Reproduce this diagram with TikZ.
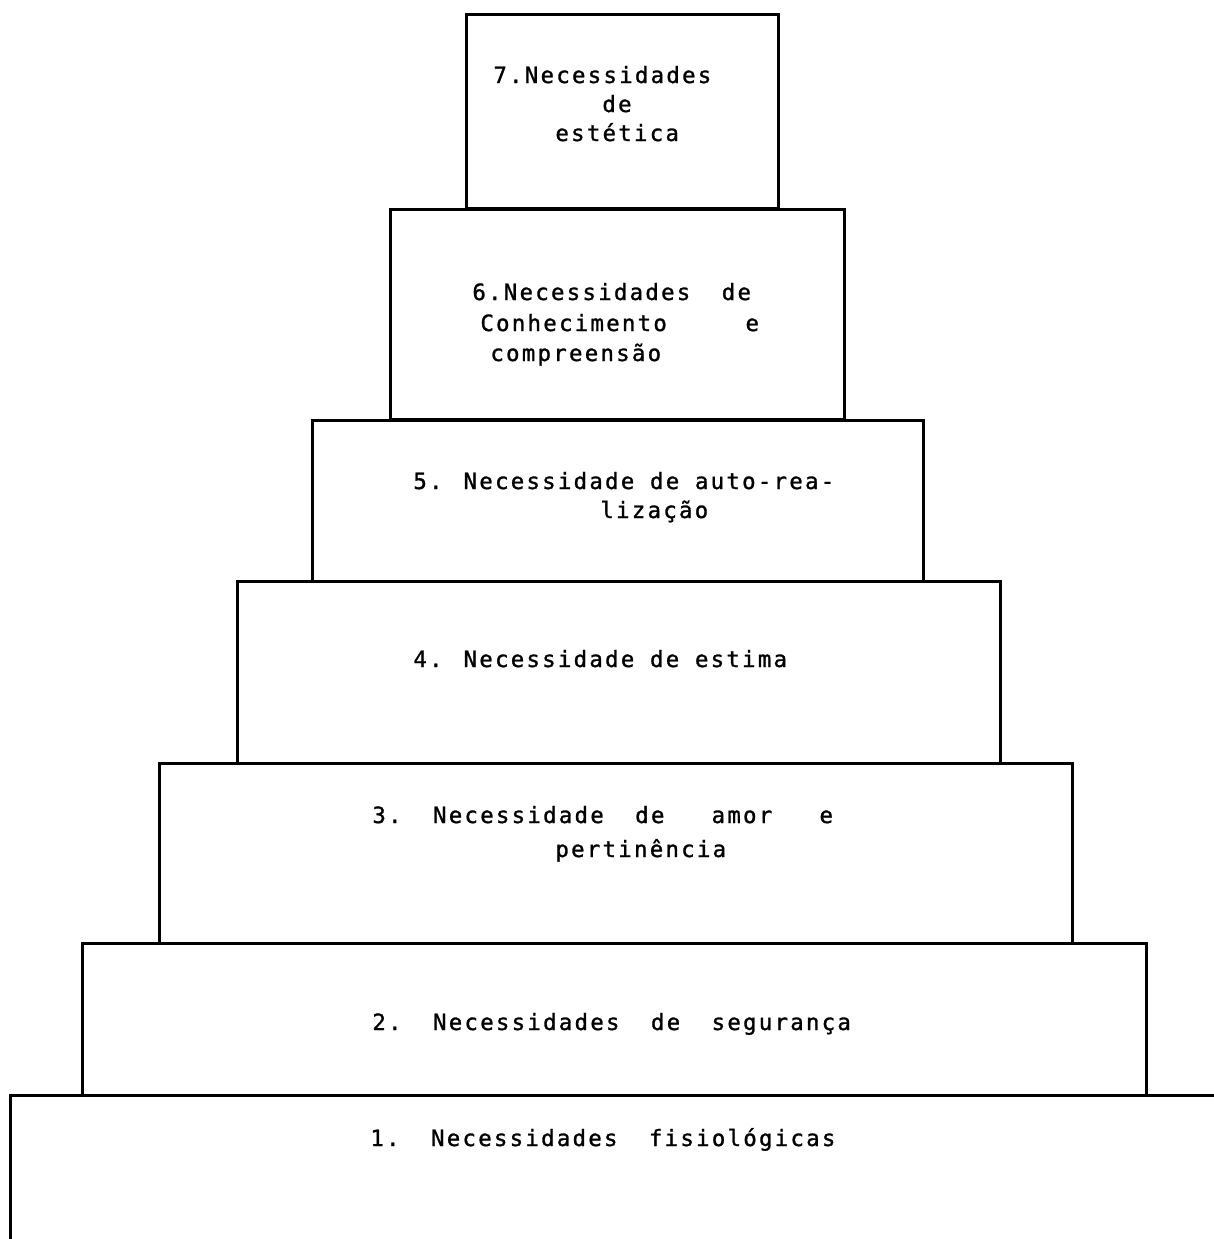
\documentclass[tikz,border=0pt]{standalone}
\usepackage{fontspec}
\newfontfamily\typew[LetterSpace=10,FakeBold=1.2]{DejaVu Sans Mono}
\begin{document}
\begin{tikzpicture}[x=0.5pt,y=-0.5pt,
  stair/.style={line width=1.5pt, line cap=round, line join=miter},
  lbl/.style={anchor=base west, inner sep=0pt, font=\typew\fontsize{11.2pt}{13pt}\selectfont}]
\useasboundingbox (0,0) rectangle (1214,1239);
% boxes
\draw[stair] (466,14) rectangle (778,208);
\draw[stair] (390,209) rectangle (844,419);
\draw[stair] (312,420) rectangle (923,581);
\draw[stair] (237,581) rectangle (1000,763);
\draw[stair] (159,763) rectangle (1072,943);
\draw[stair] (82,943) rectangle (1146,1095);
\draw[stair] (10,1239) -- (10,1095) -- (1214,1095);
% labels
\node[lbl] (t7a) at (493,83) {7.Necessidades};
\node[lbl] (t7b) at (602,112) {de};
\node[lbl] (t7c) at (555,141) {estética};
\node[lbl] (t6a) at (472,300) {6.Necessidades\ \ de};
\node[lbl] (t6b) at (480,331) {Conhecimento\ \ \ \ \ e};
\node[lbl] (t6c) at (490,361) {compreensão};
\node[lbl] (t5a) at (413,489) {5. Necessidade de auto-rea-};
\node[lbl] (t5b) at (600,518) {lização};
\node[lbl] (t4a) at (413,667) {4. Necessidade de estima};
\node[lbl] (t3a) at (372,823) {3.\ \ Necessidade\ \ de\ \ \ amor\ \ \ e};
\node[lbl] (t3b) at (555,857) {pertinência};
\node[lbl] (t2a) at (372,1030) {2.\ \ Necessidades\ \ de\ \ segurança};
\node[lbl] (t1a) at (370,1146) {1.\ \ Necessidades\ \ fisiológicas};
\end{tikzpicture}
\end{document}
